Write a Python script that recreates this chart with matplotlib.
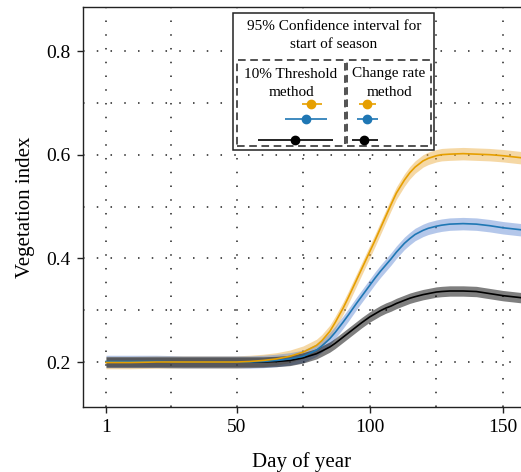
import matplotlib
matplotlib.use("Agg")
import matplotlib.pyplot as plt
import matplotlib.transforms as mtransforms
from matplotlib.patches import Rectangle
import numpy as np

plt.rcParams['font.family'] = ['Liberation Serif', 'DejaVu Serif']

# ---------------- data ----------------
days = [1, 10, 20, 30, 40, 50, 55, 60, 65, 70, 75, 80, 82, 85, 87, 90, 92, 95, 97,
        100, 102, 104, 106, 108, 110, 113, 115, 117, 120, 122, 125, 127, 130, 135,
        140, 145, 150, 157]
orange_vi = [0.199, 0.199, 0.200, 0.200, 0.200, 0.200, 0.201, 0.203, 0.206, 0.211,
             0.219, 0.232, 0.241, 0.259, 0.276, 0.304, 0.325, 0.358, 0.380,
             0.413, 0.435, 0.458, 0.481, 0.504, 0.526, 0.551, 0.565, 0.576, 0.588,
             0.593, 0.598, 0.600, 0.601, 0.602, 0.601, 0.600, 0.598, 0.594]
blue_vi = [0.201, 0.201, 0.201, 0.200, 0.200, 0.200, 0.200, 0.201, 0.203, 0.206,
           0.211, 0.223, 0.231, 0.245, 0.257, 0.277, 0.291, 0.313, 0.327,
           0.348, 0.362, 0.375, 0.387, 0.399, 0.412, 0.429, 0.438, 0.446, 0.454,
           0.458, 0.462, 0.464, 0.466, 0.467, 0.466, 0.463, 0.459, 0.455]
black_vi = [0.200, 0.200, 0.200, 0.200, 0.200, 0.200, 0.200, 0.200, 0.201, 0.203,
            0.208, 0.216, 0.221, 0.229, 0.236, 0.248, 0.256, 0.268, 0.276,
            0.287, 0.293, 0.299, 0.304, 0.308, 0.313, 0.319, 0.323, 0.326, 0.330,
            0.332, 0.335, 0.336, 0.337, 0.337, 0.336, 0.332, 0.328, 0.324]
ci_half = {"orange": 0.012, "blue": 0.012, "black": 0.010}

# start-of-season estimates (day of year) with 95% CI
threshold_sos = [78.0, 76.1, 71.9]
threshold_lo = [74.6, 68.2, 58.1]
threshold_hi = [82.1, 84.0, 86.2]
rate_sos = [99.0, 99.0, 97.8]
rate_lo = [96.0, 95.2, 93.3]
rate_hi = [102.4, 103.1, 103.1]

x_ticks = [1, 50, 100, 150]
x_minor = [25.5, 75, 125]
y_ticks = [0.2, 0.4, 0.6, 0.8]
y_minor = [0.3, 0.5, 0.7]

line_colors = ["#E69F00", "#1F77B4", "#000000"]
band_colors = ["#EBA938", "#5A84D2", "#000000"]
band_alpha = [0.45, 0.45, 0.5]
series = [orange_vi, blue_vi, black_vi]
halves = [ci_half["orange"], ci_half["blue"], ci_half["black"]]

# ---------------- figure ----------------
W, H = 521, 472
fig = plt.figure(figsize=(W / 100, H / 100), dpi=100)
ax = fig.add_axes([83 / W, 65 / H, (W - 83) / W, 400 / H])

ax.set_xlim(-7.63, 156.76)
ax.set_ylim(0.1132, 0.8849)

# grid
for xv in x_ticks + x_minor:
    ax.axvline(xv, color="#222222", lw=1.1, dashes=(1, 8), zorder=0.5)
for yv in y_ticks + y_minor:
    ax.axhline(yv, color="#222222", lw=1.1, dashes=(1, 8), zorder=0.5)

d = np.array(days)
for vals, h, bc, a in zip(series, halves, band_colors, band_alpha):
    v = np.array(vals)
    ax.fill_between(d, v - h, v + h, color=bc, alpha=a, lw=0, zorder=1)
for vals, lc in zip(series[::-1], line_colors[::-1]):
    ax.plot(days, vals, color=lc, lw=1.2, zorder=2)

ax.set_xticks(x_ticks)
ax.set_xticklabels([str(v) for v in x_ticks])
ax.set_yticks(y_ticks)
ax.set_yticklabels([f"{v:.1f}" for v in y_ticks])
ax.tick_params(axis="both", which="major", length=4, width=1.0, color="#222222",
               labelsize=14, pad=5, direction="out")
ax.spines["right"].set_visible(False)
for s in ["left", "bottom", "top"]:
    ax.spines[s].set_linewidth(1.0)
    ax.spines[s].set_color("#222222")

ax.set_xlabel("Day of year", fontsize=15, labelpad=11)
ax.set_ylabel("Vegetation index", fontsize=15, labelpad=8)

# ---------------- inset legend panel ----------------
def fr(px, py):
    return px / W, 1 - py / H

def box(x0, y0, x1, y1, **kw):
    fx0, fy1 = fr(x0, y0)
    fx1, fy0 = fr(x1, y1)
    r = Rectangle((fx0, fy0), fx1 - fx0, fy1 - fy0, transform=fig.transFigure,
                  clip_on=False, **kw)
    ax.add_patch(r)

box(232.7, 13, 434, 150, facecolor="white", edgecolor="#222222", lw=1.1, zorder=5)
box(237, 60, 345, 146, facecolor="none", edgecolor="#222222", lw=1.1,
    linestyle=(0, (5, 3)), zorder=6)
box(347, 60, 431, 146, facecolor="none", edgecolor="#222222", lw=1.1,
    linestyle=(0, (5, 3)), zorder=6)

fs = 11
tx, ty = fr(334, 27)
fig.text(tx, ty, "95% Confidence interval for", ha="center", va="center", fontsize=fs, zorder=7)
tx, ty = fr(334, 45)
fig.text(tx, ty, "start of season", ha="center", va="center", fontsize=fs, zorder=7)
tx, ty = fr(291, 74)
fig.text(tx, ty, "10% Threshold", ha="center", va="center", fontsize=fs, zorder=7)
tx, ty = fr(291, 92)
fig.text(tx, ty, "method", ha="center", va="center", fontsize=fs, zorder=7)
tx, ty = fr(389, 74)
fig.text(tx, ty, "Change rate", ha="center", va="center", fontsize=fs, zorder=7)
tx, ty = fr(389, 92)
fig.text(tx, ty, "method", ha="center", va="center", fontsize=fs, zorder=7)

trans = mtransforms.blended_transform_factory(ax.transData, ax.transAxes)
row_y = [(407 - 104) / 400, (407 - 119) / 400, (407 - 140) / 400]
for est, lo, hi in [(threshold_sos, threshold_lo, threshold_hi),
                    (rate_sos, rate_lo, rate_hi)]:
    for i in range(3):
        ax.plot([lo[i], hi[i]], [row_y[i], row_y[i]], color=line_colors[i], lw=1.2,
                transform=trans, zorder=8, clip_on=False, solid_capstyle="butt")
        ax.plot([est[i]], [row_y[i]], marker="o", ms=6, color=line_colors[i],
                transform=trans, zorder=9, clip_on=False, lw=0)

fig.savefig("out.png", dpi=100)
